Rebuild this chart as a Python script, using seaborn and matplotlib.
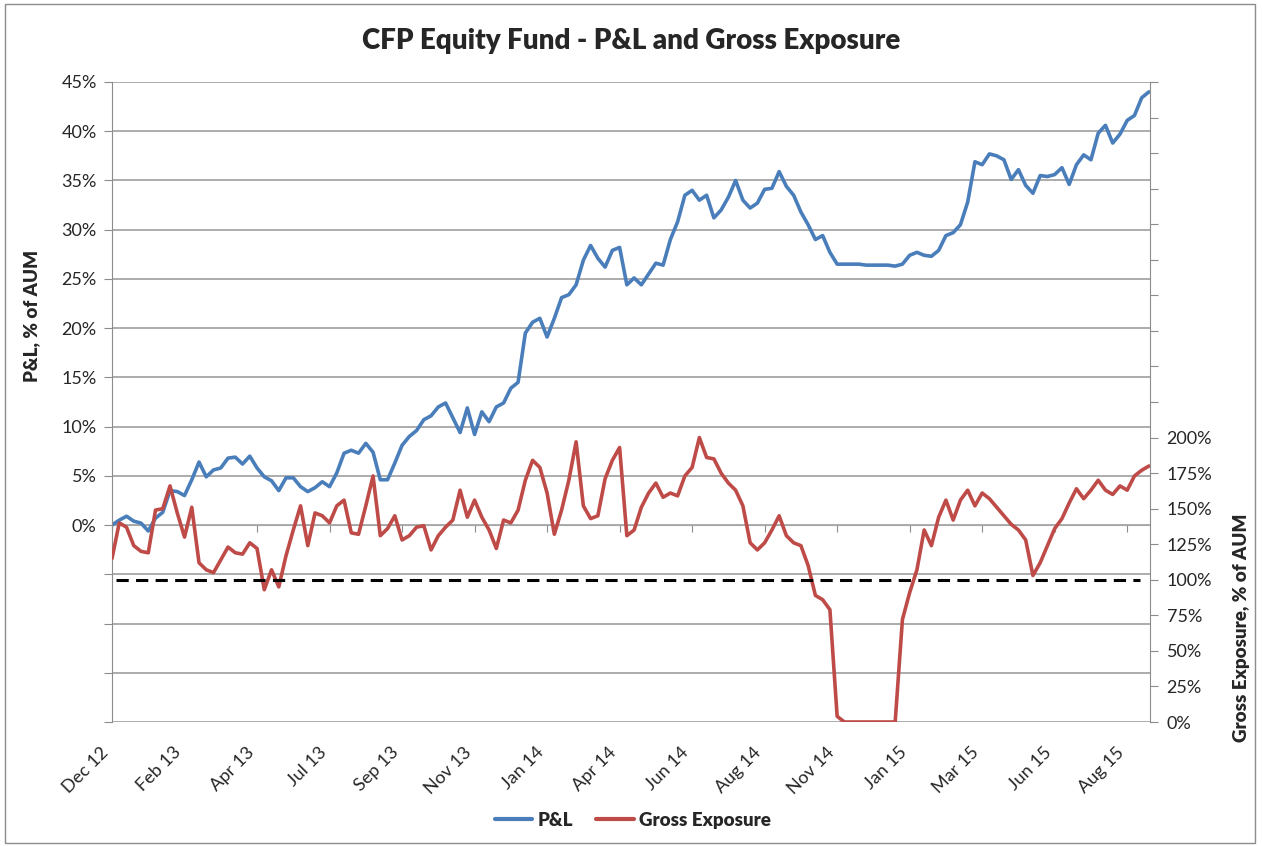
import pandas as pd
import matplotlib
matplotlib.use("Agg")
import matplotlib.pyplot as plt
import matplotlib.dates as mdates
from matplotlib.ticker import FuncFormatter, MultipleLocator
from matplotlib.patches import Rectangle
from matplotlib.lines import Line2D
import seaborn as sns

# weekly readings, Dec 2012 - Aug 2015
dates = pd.date_range("2012-12-03", periods=144, freq="7D")

pnl = [0.0, 0.5, 0.9, 0.4, 0.2, -0.6, 0.7, 1.3, 3.5, 3.4,
       3.0, 4.6, 6.4, 4.9, 5.6, 5.8, 6.8, 6.9, 6.2, 7.0,
       5.8, 4.9, 4.5, 3.5, 4.8, 4.8, 3.9, 3.4, 3.8, 4.4,
       3.9, 5.3, 7.3, 7.6, 7.3, 8.3, 7.4, 4.6, 4.6, 6.3,
       8.1, 9.0, 9.6, 10.7, 11.1, 12.0, 12.4, 10.9, 9.4, 11.9,
       9.2, 11.5, 10.5, 12.0, 12.4, 13.9, 14.5, 19.5, 20.6, 21.0,
       19.1, 21.0, 23.1, 23.4, 24.4, 26.9, 28.4, 27.1, 26.2, 27.9,
       28.2, 24.4, 25.1, 24.4, 25.5, 26.6, 26.4, 29.0, 30.8, 33.5,
       34.0, 33.0, 33.5, 31.2, 32.0, 33.3, 35.0, 33.0, 32.2, 32.7,
       34.1, 34.2, 35.9, 34.4, 33.5, 31.8, 30.5, 29.0, 29.4, 27.7,
       26.5, 26.5, 26.5, 26.5, 26.4, 26.4, 26.4, 26.4, 26.3, 26.5,
       27.4, 27.7, 27.4, 27.3, 27.9, 29.4, 29.7, 30.5, 32.8, 36.9,
       36.6, 37.7, 37.5, 37.1, 35.1, 36.1, 34.5, 33.7, 35.5, 35.4,
       35.6, 36.3, 34.6, 36.6, 37.6, 37.1, 39.8, 40.6, 38.8, 39.7,
       41.1, 41.6, 43.4, 44.0]

gross = [115, 140, 137, 124, 120, 119, 149, 150, 166, 147,
         130, 151, 112, 107, 105, 114, 123, 119, 118, 126,
         122, 93, 107, 95, 117, 135, 152, 124, 147, 145,
         140, 152, 156, 133, 132, 152, 173, 131, 136, 145,
         128, 131, 137, 138, 121, 131, 137, 142, 163, 144,
         156, 144, 135, 122, 142, 140, 149, 170, 184, 179,
         161, 132, 149, 170, 197, 152, 143, 145, 171, 184,
         193, 131, 135, 151, 161, 168, 158, 161, 159, 173,
         179, 200, 186, 185, 175, 168, 163, 152, 126, 121,
         126, 135, 145, 131, 126, 124, 110, 89, 86, 79,
         4, 0, 0, 0, 0, 0, 0, 0, 0, 72,
         91, 107, 135, 124, 144, 156, 142, 156, 163, 152,
         161, 157, 151, 145, 139, 135, 128, 103, 112, 124,
         136, 143, 154, 164, 157, 163, 170, 163, 160, 166,
         163, 173, 177, 180]

tick_dates = pd.date_range("2012-12-03", periods=15, freq="70D")
tick_labels = [d.strftime("%b %y") for d in tick_dates]

df = pd.DataFrame({"date": dates, "pnl": pnl, "gross": gross})

blue = "#4A7EBB"
red = "#BE4B48"
grey = "#8C8C8C"

sns.set_style("white")
plt.rcParams["font.family"] = ["Lato", "DejaVu Sans"]

fig = plt.figure(figsize=(12.63, 8.46), dpi=100)
ax = fig.add_axes([112 / 1263, 1 - 722 / 846, 1038 / 1263, 640 / 846])
ax2 = ax.twinx()

sns.lineplot(data=df, x="date", y="pnl", ax=ax, color=blue, lw=2.6)
sns.lineplot(data=df, x="date", y="gross", ax=ax2, color=red, lw=2.6)
ax2.axhline(100, color="black", lw=2.2, ls=(0, (4, 2.4)), xmin=0.004, xmax=0.99)

# left axis: P&L
ax.set_ylim(-20, 45)
ax.yaxis.set_major_locator(MultipleLocator(5))
ax.yaxis.set_major_formatter(FuncFormatter(lambda v, p: f"{v:.0f}%" if v >= 0 else ""))
ax.yaxis.grid(True, color="#A6A6A6", lw=1.3)
ax.set_axisbelow(True)
ax.tick_params(axis="y", direction="out", length=6, color=grey, labelsize=13, pad=5)

# right axis: gross exposure
ax2.set_ylim(0, 450)
ax2.yaxis.set_major_locator(MultipleLocator(25))
ax2.yaxis.set_major_formatter(FuncFormatter(lambda v, p: f"{v:.0f}%" if v <= 200 else ""))
ax2.tick_params(axis="y", direction="out", length=6, color=grey, labelsize=13, pad=6)

# x axis
x0 = mdates.date2num(pd.Timestamp("2012-12-03"))
ax.set_xlim(x0, x0 + 1002)
tick_nums = mdates.date2num(tick_dates)
ax.set_xticks(tick_nums)
ax.set_xticklabels(tick_labels, rotation=45, ha="right", fontsize=13)
ax.tick_params(axis="x", length=0, pad=16)

# category axis crosses at 0% P&L
sec = ax.secondary_xaxis(20 / 65)
sec.set_xticks(tick_nums)
sec.tick_params(axis="x", direction="out", length=5, color=grey, labelbottom=False, labeltop=False)
sec.spines["bottom"].set_color("#A6A6A6")
sec.spines["top"].set_visible(False)

for a in (ax, ax2):
    for s in ("top", "bottom"):
        a.spines[s].set_visible(False)
ax.spines["left"].set_color(grey)
ax.spines["right"].set_visible(False)
ax2.spines["left"].set_visible(False)
ax2.spines["right"].set_color(grey)

ax.set_xlabel("")
ax.set_ylabel("P&L, % of AUM", fontsize=13.5, fontweight="heavy")
ax.yaxis.set_label_coords(-72 / 1038, (722 - 316) / 640)
ax2.set_ylabel("Gross Exposure, % of AUM", fontsize=13.5, fontweight="heavy")
ax2.yaxis.set_label_coords((1233 - 112) / 1038, (722 - 628) / 640)

fig.suptitle("CFP Equity Fund - P&L and Gross Exposure", fontsize=20, fontweight="heavy",
             y=1 - 41 / 846, va="center")

handles = [Line2D([], [], color=blue, lw=3), Line2D([], [], color=red, lw=3)]
fig.legend(handles, ["P&L", "Gross Exposure"], loc="center", bbox_to_anchor=(633 / 1263, 1 - 820 / 846),
           ncol=2, frameon=False, handlelength=2.0, handletextpad=0.3, columnspacing=1.2,
           prop={"weight": "heavy", "size": 13.5})

fig.add_artist(Rectangle((5 / 1263, 3 / 846), 1250 / 1263, 839 / 846, transform=fig.transFigure,
                         fill=False, ec=grey, lw=1))

fig.savefig("out.png", dpi=100)
